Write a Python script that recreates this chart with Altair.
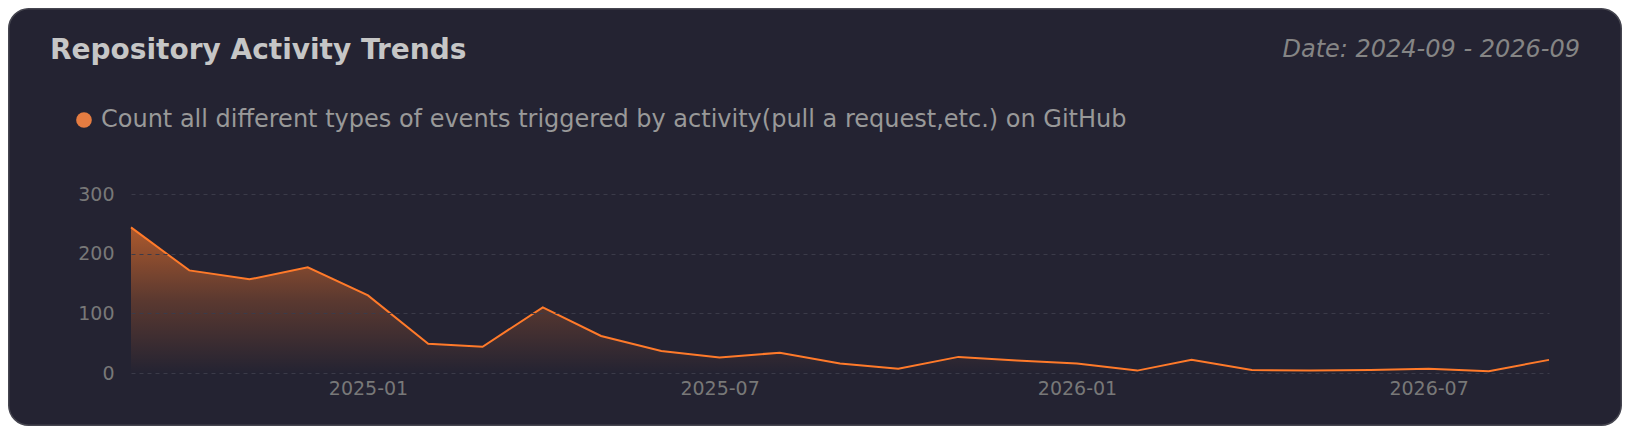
import altair as alt
import pandas as pd

# ---- data ----
MONTHS = [
    "2024-09-01", "2024-10-01", "2024-11-01", "2024-12-01",
    "2025-01-01", "2025-02-01", "2025-03-01", "2025-04-01",
    "2025-05-01", "2025-06-01", "2025-07-01", "2025-08-01",
    "2025-09-01", "2025-10-01", "2025-11-01", "2025-12-01",
    "2026-01-01", "2026-02-01", "2026-03-01", "2026-04-01",
    "2026-05-01", "2026-06-01", "2026-07-01", "2026-08-01",
    "2026-09-01",
]
EVENTS = [244, 172, 157, 177, 130, 49, 44, 110, 62, 37, 26, 34,
          16, 7, 27, 21, 16, 4, 22, 5, 4, 5, 7, 3, 22]
SERIES = "Count all different types of events triggered by activity(pull a request,etc.) on GitHub"
TITLE = "Repository Activity Trends"
DATE_LABEL = "Date: 2024-09 - 2026-09"
Y_TICKS = [0, 100, 200, 300]
X_TICKS = [(2025, 1), (2025, 7), (2026, 1), (2026, 7)]

df = pd.DataFrame({"month": MONTHS, "events": EVENTS, "series": SERIES})

# ---- layout (pixels) ----
W, H = 1418, 179
PAD = {"left": 123, "top": 186, "right": 73, "bottom": 53}
BG = "#242332"
ORANGE = "#ff7a2a"

x_enc = alt.X(
    "month:T",
    scale=alt.Scale(
        type="utc",
        domain=[alt.DateTime(year=2024, month=9, date=1, utc=True),
                alt.DateTime(year=2026, month=9, date=1, utc=True)],
    ),
    axis=alt.Axis(
        values=[alt.DateTime(year=y, month=m, date=1, utc=True) for y, m in X_TICKS],
        format="%Y-%m", title=None, grid=False, domain=False, ticks=False,
        tickSize=0, labelPadding=6, labelFontSize=19, labelColor="#787878",
        labelFont="DejaVu Sans", zindex=1,
    ),
)
y_enc = alt.Y(
    "events:Q",
    scale=alt.Scale(domain=[0, 300], nice=False),
    axis=alt.Axis(
        values=Y_TICKS, title=None, domain=False, ticks=False, tickSize=0,
        labelPadding=17, labelFontSize=19, labelColor="#787878",
        labelFont="DejaVu Sans", grid=True, gridColor="#3b3b49",
        gridDash=[4, 4], gridWidth=1, zindex=1,
    ),
)

card = alt.Chart(alt.Data(values=[{}])).mark_rect(
    fill=BG, stroke="#45454f", strokeWidth=1.5, cornerRadius=20
).encode(
    x=alt.value(-PAD["left"] + 0.75), x2=alt.value(W + PAD["right"] - 0.75),
    y=alt.value(-PAD["top"] + 0.75), y2=alt.value(H + PAD["bottom"] - 0.75),
)

title = alt.Chart(alt.Data(values=[{}])).mark_text(
    text=TITLE, font="DejaVu Sans", fontSize=28, fontWeight="bold",
    color="#c6c6c6", align="left", baseline="alphabetic",
).encode(x=alt.value(-81), y=alt.value(-134.7))

date_txt = alt.Chart(alt.Data(values=[{}])).mark_text(
    text=DATE_LABEL, font="DejaVu Sans", fontSize=24, fontStyle="italic",
    color="#858585", align="right", baseline="alphabetic",
).encode(x=alt.value(1449), y=alt.value(-137.3))

area = alt.Chart(df).mark_area(
    line=False,
    color=alt.Gradient(
        gradient="linear", x1=0, x2=0, y1=0, y2=1,
        stops=[
            alt.GradientStop(color="rgba(255,122,42,0.62)", offset=0),
            alt.GradientStop(color="rgba(255,122,42,0.25)", offset=0.5),
            alt.GradientStop(color="rgba(255,122,42,0.0)", offset=1),
        ],
    ),
).encode(x=x_enc, y=y_enc)

line = alt.Chart(df).mark_line(color=ORANGE, strokeWidth=2).encode(x=x_enc, y=y_enc)

legend_layer = alt.Chart(df).mark_circle(opacity=0).encode(
    x=x_enc, y=y_enc,
    color=alt.Color(
        "series:N",
        scale=alt.Scale(range=["#e57c41"]),
        legend=alt.Legend(
            title=None, orient="none", legendX=-59, legendY=-86,
            symbolType="circle", symbolSize=246, symbolOpacity=1,
            symbolStrokeWidth=0, labelFontSize=24, labelColor="#999999",
            labelFont="DejaVu Sans", labelOffset=5, labelLimit=3000,
            padding=0,
        ),
    ),
)

chart = alt.layer(card, area, line, legend_layer, title, date_txt).properties(
    width=W, height=H,
    autosize=alt.AutoSizeParams(type="none"),
    padding=PAD,
    background="transparent",
).configure_view(stroke=None).configure(font="DejaVu Sans")

chart.save("out.html", embed_options={"renderer": "svg", "actions": False})
